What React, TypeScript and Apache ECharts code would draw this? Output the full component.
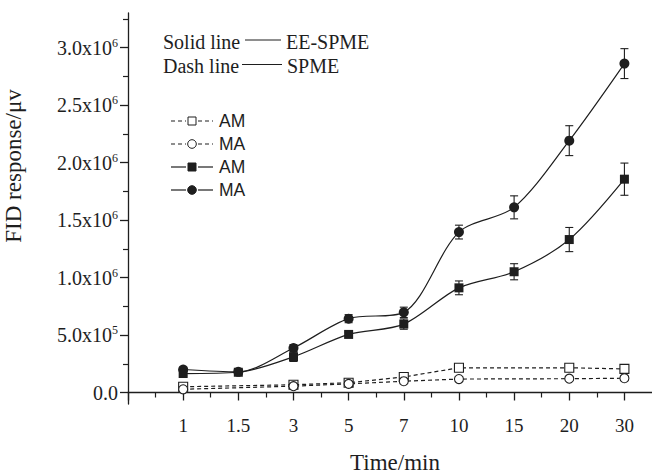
import React, { useEffect, useRef } from "react";
import * as echarts from "echarts";

// Time categories (x axis)
const timeLabels = ["1", "1.5", "3", "5", "7", "10", "15", "20", "30"];
// EE-SPME (solid lines) – all nine times
const eeTimes = ["1", "1.5", "3", "5", "7", "10", "15", "20", "30"];
const eeAM = [1.65e5, 1.76e5, 3.1e5, 5.05e5, 5.95e5, 9.1e5, 1.05e6, 1.33e6, 1.855e6];
const eeAMErr = [2e4, 2e4, 4e4, 2e4, 4.5e4, 6e4, 7e4, 1.05e5, 1.4e5];
const eeMA = [2.0e5, 1.8e5, 3.87e5, 6.42e5, 6.97e5, 1.395e6, 1.61e6, 2.19e6, 2.86e6];
const eeMAErr = [2e4, 1.5e4, 3e4, 3.5e4, 4.5e4, 6e4, 1e5, 1.3e5, 1.3e5];
// SPME (dashed lines)
const spTimes = ["1", "3", "5", "7", "10", "20", "30"];
const spAM = [5e4, 6.7e4, 8.5e4, 1.35e5, 2.15e5, 2.15e5, 2.05e5];
const spAMErr = [1e4, 1e4, 1e4, 1.5e4, 2e4, 2e4, 2.5e4];
const spMA = [2.8e4, 5.5e4, 7.5e4, 9.8e4, 1.17e5, 1.2e5, 1.24e5];
const spMAErr = [8e3, 8e3, 8e3, 1e4, 1e4, 1e4, 1.2e4];
// Y tick labels
const yTickValues = [0, 5e5, 1e6, 1.5e6, 2e6, 2.5e6, 3e6];
const yTickTexts = ["0.0", "5.0x10|5", "1.0x10|6", "1.5x10|6", "2.0x10|6", "2.5x10|6", "3.0x10|6"];

const SERIF = '"Liberation Serif", "Times New Roman", serif';
const SANS = '"Liberation Sans", Arial, sans-serif';
const INK = "#1e1e1e";

const pos = (t: string) => timeLabels.indexOf(t) + 1;
const pts = (times: string[], vals: number[]) => times.map((t, i) => [pos(t), vals[i]]);
const errs = (times: string[], vals: number[], e: number[]) =>
  times.map((t, i) => [pos(t), vals[i] - e[i], vals[i] + e[i]]);

function errSeries(data: number[][]) {
  return {
    type: "custom",
    xAxisIndex: 0,
    yAxisIndex: 0,
    data,
    z: 3,
    silent: true,
    encode: { x: 0, y: [1, 2] },
    renderItem: (params: any, api: any) => {
      const x = api.value(0);
      const lo = api.coord([x, api.value(1)]);
      const hi = api.coord([x, api.value(2)]);
      const hw = 4;
      const st = { stroke: INK, lineWidth: 1.1 };
      return {
        type: "group",
        children: [
          { type: "line", shape: { x1: lo[0], y1: lo[1], x2: hi[0], y2: hi[1] }, style: st },
          { type: "line", shape: { x1: lo[0] - hw, y1: lo[1], x2: lo[0] + hw, y2: lo[1] }, style: st },
          { type: "line", shape: { x1: hi[0] - hw, y1: hi[1], x2: hi[0] + hw, y2: hi[1] }, style: st },
        ],
      };
    },
  };
}

function legendRow(y: number, dashed: boolean, symbol: "rect" | "circle", filled: boolean, label: string) {
  const lineStyle = { stroke: INK, lineWidth: 1.2, lineDash: dashed ? [4, 3] : undefined };
  const cx = 192;
  const sym =
    symbol === "rect"
      ? { type: "rect", shape: { x: cx - 4, y: y - 4, width: 8, height: 8 }, style: { fill: filled ? INK : "#fff", stroke: INK, lineWidth: 1 } }
      : { type: "circle", shape: { cx, cy: y, r: 4.3 }, style: { fill: filled ? INK : "#fff", stroke: INK, lineWidth: 1 } };
  return [
    { type: "line", shape: { x1: 171, y1: y, x2: 186, y2: y }, style: lineStyle },
    { type: "line", shape: { x1: 198, y1: y, x2: 213, y2: y }, style: lineStyle },
    sym,
    { type: "text", x: 219, y, style: { text: label, fontFamily: SANS, fontSize: 17.5, fill: INK, verticalAlign: "middle" } },
  ];
}

export default function App() {
  const ref = useRef<HTMLDivElement>(null);
  useEffect(() => {
    document.body.style.margin = "0";
    if (!ref.current) return;
    const chart = echarts.init(ref.current, null, { renderer: "svg" });
    const yMin = -1e5;
    const yMax = 3.3e6;
    const xMin = 0;
    const xMax = 9.5;
    const minorY: number[] = [];
    for (let v = 2.5e5; v <= 3.25e6; v += 5e5) minorY.push(v);
    const minorX: number[] = [];
    for (let v = 0.5; v < 9.5; v += 1) minorX.push(v);
    const majorX = [0, ...timeLabels.map((_, i) => i + 1)];

    const option: any = {
      animation: false,
      backgroundColor: "#fff",
      grid: { left: 128, top: 13, width: 525, height: 391 },
      xAxis: [
        {
          type: "value",
          min: xMin,
          max: xMax,
          axisLine: { show: true, lineStyle: { color: INK, width: 1.3 } },
          axisTick: { show: true, length: 8, customValues: majorX, lineStyle: { color: INK, width: 1.3 } },
          axisLabel: {
            customValues: timeLabels.map((_, i) => i + 1),
            formatter: (v: number) => timeLabels[Math.round(v) - 1] ?? "",
            fontFamily: SERIF,
            fontSize: 19,
            color: INK,
            margin: 12,
          },
          splitLine: { show: false },
        },
        {
          type: "value",
          min: xMin,
          max: xMax,
          position: "bottom",
          axisLine: { show: false },
          axisTick: { show: true, length: 5, customValues: minorX, lineStyle: { color: INK, width: 1.2 } },
          axisLabel: { show: false },
          splitLine: { show: false },
        },
      ],
      yAxis: [
        {
          type: "value",
          min: yMin,
          max: yMax,
          axisLine: { show: true, lineStyle: { color: INK, width: 1.3 } },
          axisTick: { show: true, length: 8, customValues: yTickValues, lineStyle: { color: INK, width: 1.3 } },
          axisLabel: {
            customValues: yTickValues,
            formatter: (v: number) => {
              const i = yTickValues.findIndex((t) => Math.abs(t - v) < 1);
              const s = i >= 0 ? yTickTexts[i] : "";
              const [m, e] = s.split("|");
              return e ? `{m|${m}}{s|${e}}` : `{m|${m}}`;
            },
            rich: {
              m: { fontFamily: SERIF, fontSize: 20, color: INK, lineHeight: 22 },
              s: { fontFamily: SERIF, fontSize: 12, color: INK, verticalAlign: "top", lineHeight: 12 },
            },
            margin: 10,
          },
          splitLine: { show: false },
        },
        {
          type: "value",
          min: yMin,
          max: yMax,
          position: "left",
          axisLine: { show: false },
          axisTick: { show: true, length: 5, customValues: minorY, lineStyle: { color: INK, width: 1.2 } },
          axisLabel: { show: false },
          splitLine: { show: false },
        },
      ],
      graphic: [
        {
          type: "text",
          x: 13,
          y: 166,
          rotation: Math.PI / 2,
          style: { text: "FID response/μv", fontFamily: SERIF, fontSize: 23, fill: INK, align: "center", verticalAlign: "middle" },
        },
        {
          type: "text",
          x: 395,
          y: 462,
          style: { text: "Time/min", fontFamily: SERIF, fontSize: 23, fill: INK, align: "center", verticalAlign: "middle" },
        },
        { type: "text", x: 163, y: 42, style: { text: "Solid line", fontFamily: SERIF, fontSize: 20, fill: INK, verticalAlign: "middle" } },
        { type: "line", shape: { x1: 245, y1: 40, x2: 281, y2: 40 }, style: { stroke: INK, lineWidth: 1 } },
        { type: "text", x: 286, y: 42, style: { text: "EE-SPME", fontFamily: SERIF, fontSize: 20, fill: INK, verticalAlign: "middle" } },
        { type: "text", x: 163, y: 66, style: { text: "Dash line", fontFamily: SERIF, fontSize: 20, fill: INK, verticalAlign: "middle" } },
        { type: "line", shape: { x1: 242, y1: 64.5, x2: 282, y2: 64.5 }, style: { stroke: INK, lineWidth: 1.2 } },
        { type: "text", x: 287, y: 66, style: { text: "SPME", fontFamily: SERIF, fontSize: 20, fill: INK, verticalAlign: "middle" } },
        ...legendRow(121, true, "rect", false, "AM"),
        ...legendRow(144, true, "circle", false, "MA"),
        ...legendRow(167, false, "rect", true, "AM"),
        ...legendRow(190, false, "circle", true, "MA"),
      ],
      series: [
        errSeries(errs(spTimes, spAM, spAMErr)),
        errSeries(errs(spTimes, spMA, spMAErr)),
        errSeries(errs(eeTimes, eeAM, eeAMErr)),
        errSeries(errs(eeTimes, eeMA, eeMAErr)),
        {
          name: "AM (SPME)",
          type: "line",
          data: pts(spTimes, spAM),
          symbol: "rect",
          symbolSize: 9,
          lineStyle: { color: INK, width: 1.2, type: [4, 3] },
          itemStyle: { color: "#fff", borderColor: INK, borderWidth: 1.1 },
          z: 4,
        },
        {
          name: "MA (SPME)",
          type: "line",
          data: pts(spTimes, spMA),
          symbol: "circle",
          symbolSize: 9,
          lineStyle: { color: INK, width: 1.2, type: [4, 3] },
          itemStyle: { color: "#fff", borderColor: INK, borderWidth: 1.1 },
          z: 4,
        },
        {
          name: "AM (EE-SPME)",
          type: "line",
          data: pts(eeTimes, eeAM),
          smooth: 0.3,
          symbol: "rect",
          symbolSize: 9,
          lineStyle: { color: INK, width: 1.2 },
          itemStyle: { color: INK },
          z: 4,
        },
        {
          name: "MA (EE-SPME)",
          type: "line",
          data: pts(eeTimes, eeMA),
          smooth: 0.3,
          symbol: "circle",
          symbolSize: 10,
          lineStyle: { color: INK, width: 1.2 },
          itemStyle: { color: INK },
          z: 4,
        },
      ],
    };
    chart.setOption(option);
    return () => chart.dispose();
  }, []);
  return <div ref={ref} style={{ width: 652, height: 475 }} />;
}
